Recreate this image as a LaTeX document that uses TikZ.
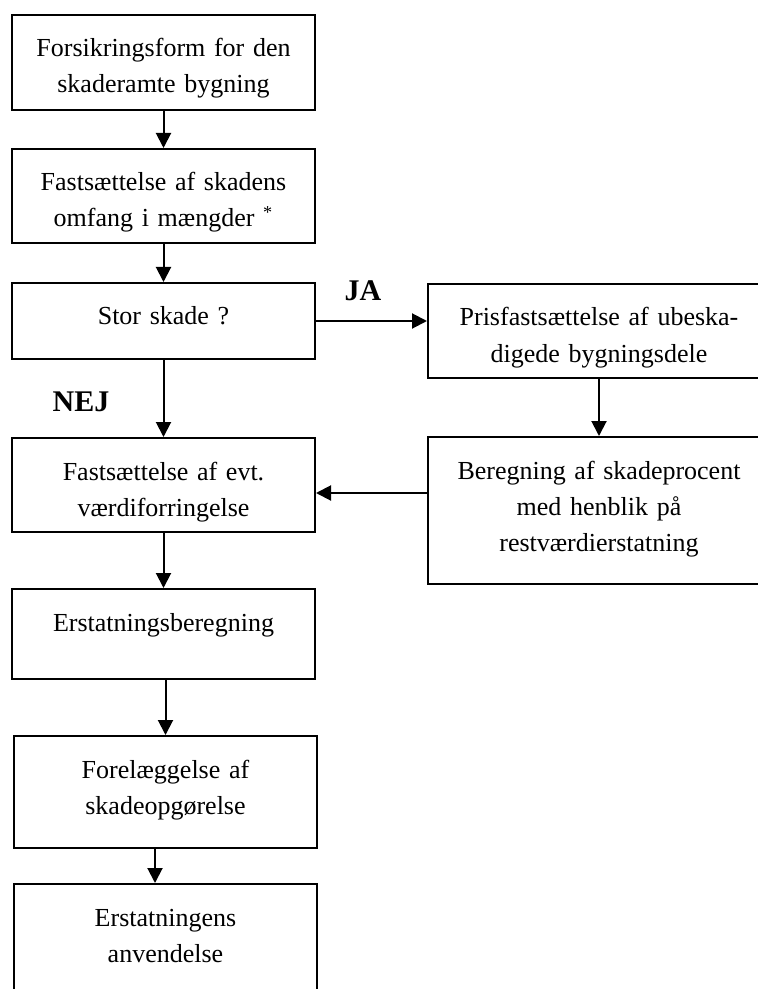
\documentclass[tikz,border=0pt]{standalone}
\usepackage{fontspec}
\setmainfont{Liberation Serif}
\usetikzlibrary{arrows.meta, positioning}

\tikzset{
  box/.style={draw, line width=1pt, inner sep=0pt, anchor=north,
    text width=151.5pt, align=center, text height=21pt,
    font=\fontsize{13}{18}\selectfont},
  widebox/.style={box, text width=171pt},
  arr/.style={-{Triangle[length=7.5pt,width=7.5pt]}, line width=1pt},
  svar/.style={font=\fontsize{15}{18}\selectfont\bfseries}
}

\begin{document}
\begin{tikzpicture}[x=0.5pt, y=-0.5pt]
\useasboundingbox (0,0) rectangle (758,989);
% left column
\node[box, text depth=26.5pt] (forsikring) at (163.5,14)
    {Forsikringsform for den\\skaderamte bygning};
\node[box, text depth=26pt] (omfang) at (163.5,148)
    {Fastsættelse af skadens\\omfang i mængder \textsuperscript{*}};
\node[box, text depth=17pt] (stor) at (163.5,282) {Stor skade ?};
\node[box, text depth=26pt] (vaerdi) at (163.5,437)
    {Fastsættelse af evt.\\værdiforringelse};
\node[box, text depth=24pt] (beregning) at (163.5,588) {Erstatningsberegning};
\node[box, text depth=35pt] (forelaeg) at (165.5,735)
    {Forelæggelse af\\skadeopgørelse};
\node[box, text depth=49pt] (anvend) at (165.5,883)
    {Erstatningens\\anvendelse};
% right column
\node[widebox, text depth=26pt] (pris) at (599,283)
    {Prisfastsættelse af ubeska-\\digede bygningsdele};
\node[widebox, text depth=52.5pt] (procent) at (599,436)
    {Beregning af skadeprocent\\med henblik på\\restværdierstatning};
% answers
\node[svar] (ja) at (363,291) {JA};
\node[svar] (nej) at (81,402) {NEJ};
% arrows
\draw[arr] (forsikring) -- (omfang);
\draw[arr] (omfang) -- (stor);
\draw[arr] (stor) -- (vaerdi);
\draw[arr] (vaerdi) -- (beregning);
\draw[arr] (beregning.south -| forelaeg.north) -- (forelaeg.north);
\draw[arr] ([xshift=-5.25pt]forelaeg.south) -- ([xshift=-5.25pt]anvend.north);
\draw[arr] (stor.east) -- (stor.east -| pris.west);
\draw[arr] (pris) -- (procent);
\coordinate (tilbage) at ([yshift=-28.5pt]procent.north west);
\draw[arr] (tilbage) -- (tilbage -| vaerdi.east);
\end{tikzpicture}
\end{document}
